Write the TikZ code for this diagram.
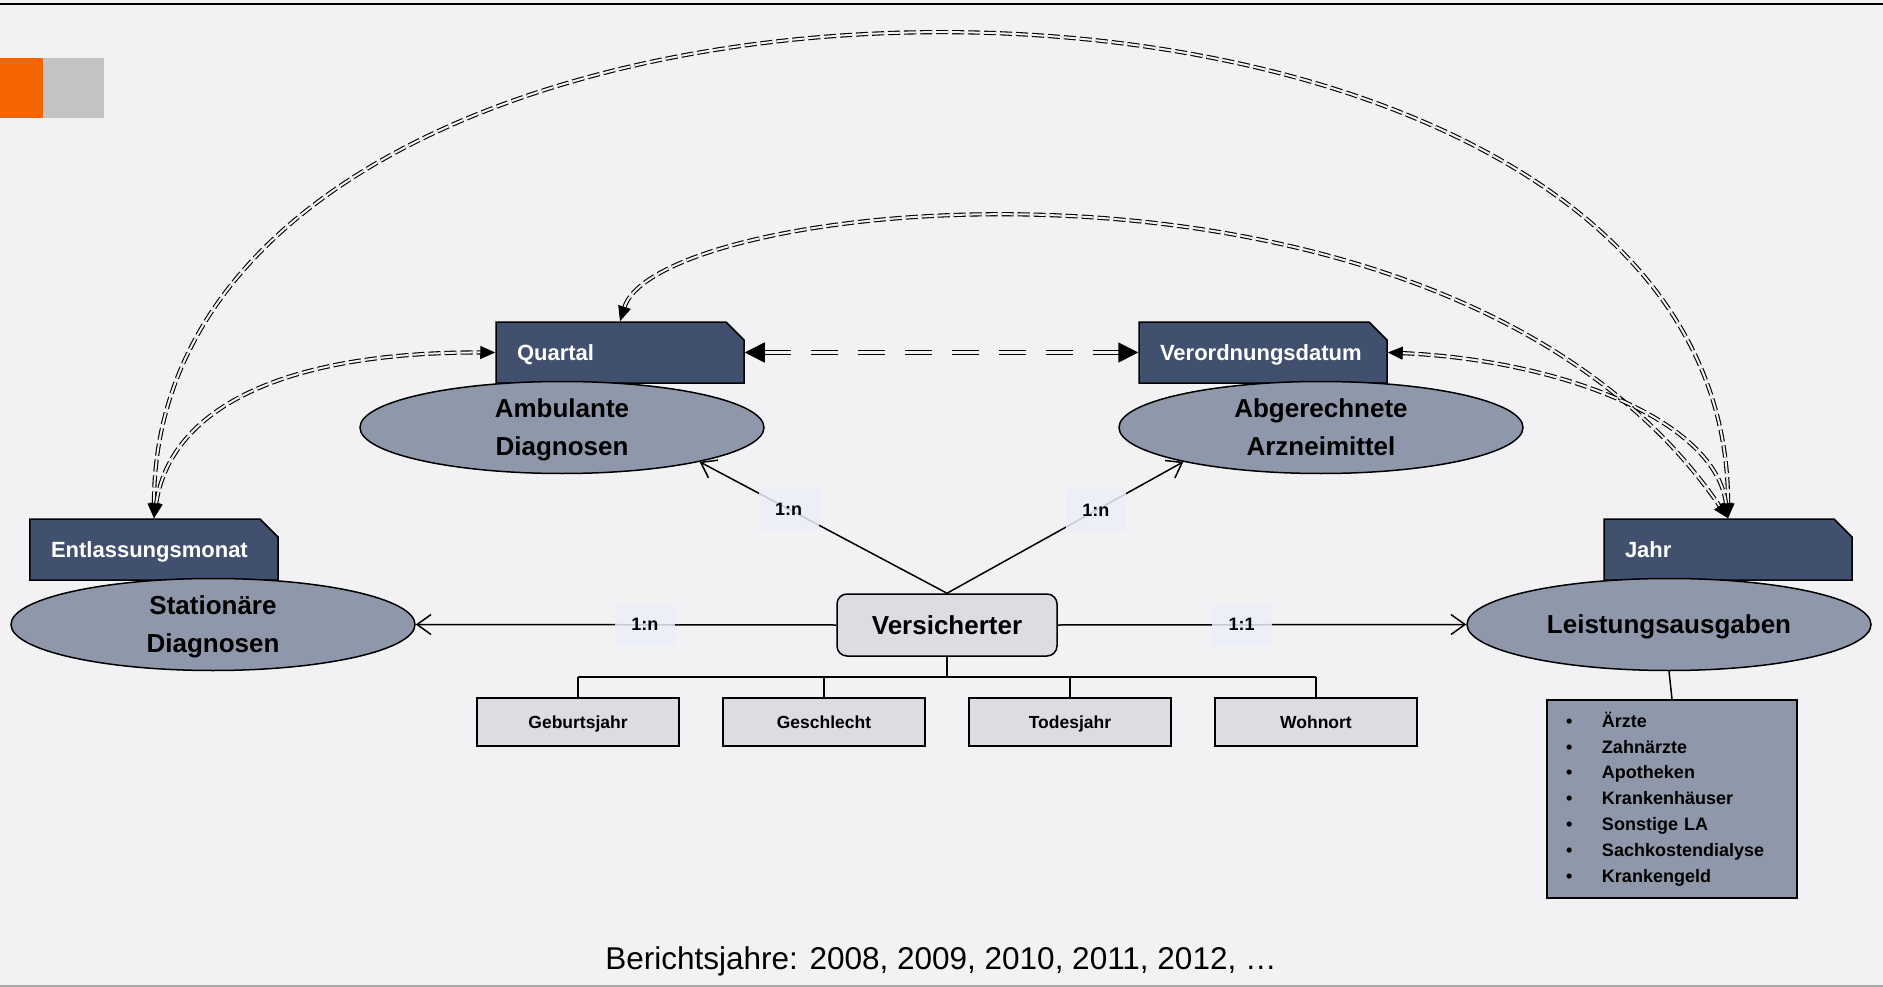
\documentclass[tikz,border=0pt]{standalone}
\usepackage{fontspec}
\setmainfont{Liberation Sans}
\usetikzlibrary{shapes.geometric,shapes.misc,arrows.meta}
\definecolor{bgc}{HTML}{F2F2F4}
\definecolor{tagc}{HTML}{41506E}
\definecolor{ellc}{HTML}{8F98AA}
\definecolor{attc}{HTML}{DCDDE2}
\definecolor{labc}{HTML}{ECEFF8}
\definecolor{orangec}{HTML}{F46400}
\definecolor{greyc}{HTML}{C3C3C5}

\begin{document}
\begin{tikzpicture}[x=1pt,y=-1pt,
        tag/.style={chamfered rectangle,chamfered rectangle corners=north east,chamfered rectangle xsep=9pt,chamfered rectangle ysep=10pt,draw,line width=1.5pt,fill=tagc,text=white,font=\bfseries\fontsize{22}{26}\selectfont,text width=206pt,inner xsep=13pt,inner ysep=0pt,minimum height=61pt,text height=16pt,text depth=0pt,align=left},
        ent/.style={ellipse,draw,line width=1.5pt,fill=ellc,minimum width=404pt,minimum height=92pt,inner sep=0pt,align=center,text depth=-4pt,font=\bfseries\fontsize{26}{38}\selectfont},
        att/.style={rectangle,draw,line width=1.5pt,fill=attc,minimum width=202pt,minimum height=48pt,text height=14pt,text depth=2pt,font=\bfseries\fontsize{17.5}{20}\selectfont},
        rel/.style={line width=1.5pt,-{Straight Barb[length=14pt,width=20pt]}},
        card/.style={fill=labc,fill opacity=0.85,text opacity=1,minimum width=60pt,minimum height=42pt,inner sep=0pt,font=\bfseries\fontsize{18}{20}\selectfont},
        link/.style={draw,double=bgc,dash pattern=on 12pt off 4pt,line width=1.1pt,double distance=2pt,{Triangle[length=15pt,width=13pt]}-{Triangle[length=15pt,width=13pt]}}]
        \useasboundingbox (0,0) rectangle (1883,987);
        \fill[bgc] (0,0) rectangle (1883,987);
        \fill[orangec] (0,58) rectangle (43,118);
        \fill[greyc] (43,58) rectangle (104,118);
        \draw[line width=2pt] (0,4.5) -- (1883,4.5);
        \draw[gray!70,line width=2pt] (0,985.5) -- (1883,985.5);
        \node[tag] (Q) at (620,352.5) {Quartal};%amb
        \node[tag] (V) at (1263,352.5) {Verordnungsdatum};%arz
        \node[tag] (E) at (154,549.5) {Entlassungsmonat};%stat
        \node[tag] (J) at (1728,549.5) {Jahr};%la
        \node[ent] (A) at (562,427.5) {Ambulante\\Diagnosen};
        \node[ent] (R) at (1321,427.5) {Abgerechnete\\Arzneimittel};
        \node[ent] (S) at (213,624.5) {Stationäre\\Diagnosen};
        \node[ent] (L) at (1669,624.5) {Leistungsausgaben};
        \node[draw,line width=1.5pt,fill=attc,rounded corners=10pt,minimum width=220pt,minimum height=62pt,font=\bfseries\fontsize{26}{30}\selectfont] (X) at (947,625) {Versicherter};
        \node[att] (G1) at (578,722) {Geburtsjahr};
        \node[att] (G2) at (824,722) {Geschlecht};
        \node[att] (G3) at (1070,722) {Todesjahr};
        \node[att] (G4) at (1316,722) {Wohnort};
        \node[draw,line width=1.5pt,fill=ellc,minimum width=250pt,minimum height=198pt,text width=212pt,inner xsep=19pt,align=left,font=\bfseries\fontsize{18}{25.8}\selectfont] (B) at (1672,799) {\makebox[36pt][l]{\textbullet}Ärzte\\\makebox[36pt][l]{\textbullet}Zahnärzte\\\makebox[36pt][l]{\textbullet}Apotheken\\\makebox[36pt][l]{\textbullet}Krankenhäuser\\\makebox[36pt][l]{\textbullet}Sonstige LA\\\makebox[36pt][l]{\textbullet}Sachkostendialyse\\\makebox[36pt][l]{\textbullet}Krankengeld};%kosten
        \node[font=\fontsize{31.5}{36}\selectfont] (T) at (941,961) {Berichtsjahre: 2008, 2009, 2010, 2011, 2012, …};
        \coordinate (K) at (947,677);%bracket
        \draw[rel] (X.north) -- (A.-14) node[card,pos=0.64] {1:n};
        \draw[rel] (X.north) -- (R.194) node[card,pos=0.63] {1:n};
        \draw[rel] (X.west) -- (S.east) node[card,pos=0.455] {1:n};
        \draw[rel] (X.east) -- (L.west) node[card,pos=0.45] {1:1};
        \draw[line width=1.5pt] (X.south) -- (K);
        \draw[line width=1.5pt] (K -| G1.north) -- (K -| G4.north);
        \draw[line width=1.5pt] (K -| G1.north) -- (G1.north);
        \draw[line width=1.5pt] (K -| G2.north) -- (G2.north);
        \draw[line width=1.5pt] (K -| G3.north) -- (G3.north);
        \draw[line width=1.5pt] (K -| G4.north) -- (G4.north);
        \draw[line width=1.5pt] (L.south) -- (B.north);
        \draw[link] (E.north) .. controls (154,-125) and (1729,-125) .. (J.north);
        \draw[link] (E.north) .. controls (170,410) and (280,352) .. (Q.west);
        \draw[link] (Q.north) .. controls (660,195) and (1450,112) .. (J.north);
        \draw[link] (V.east) .. controls (1560,360) and (1715,420) .. (J.north);
        \draw[link,dash pattern=on 27pt off 20pt,line width=1.6pt,double distance=2.6pt,{Triangle[length=20pt,width=20pt]}-{Triangle[length=20pt,width=20pt]}] (Q.east) -- (V.west);
\end{tikzpicture}
\end{document}
